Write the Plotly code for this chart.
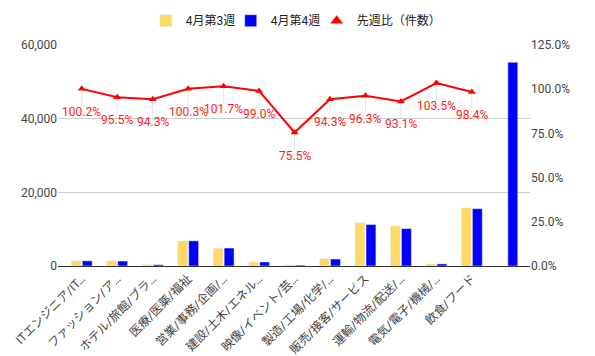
import plotly.graph_objects as go

categories = ["ITエンジニア/IT…", "ファッション/ア…", "ホテル/旅館/ブラ…", "医療/医薬/福祉",
              "営業/事務/企画/…", "建設/土木/エネル…", "映像/イベント/芸…", "製造/工場/化学/…",
              "販売/接客/サービス", "運輸/物流/配送/…", "電気/電子/機械/…", "飲食/フード", ""]
week3 = [1400, 1400, 350, 6800, 4800, 1100, 300, 2000, 11700, 10900, 550, 15800, None]
week4 = [1403, 1340, 330, 6820, 4880, 1090, 230, 1890, 11250, 10150, 570, 15550, 55300]
ratio = [100.2, 95.5, 94.3, 100.3, 101.7, 99.0, 75.5, 94.3, 96.3, 93.1, 103.5, 98.4, None]
ratio_labels = ["100.2%", "95.5%", "94.3%", "100.3%", "101.7%", "99.0%", "75.5%",
                "94.3%", "96.3%", "93.1%", "103.5%", "98.4%", ""]
left_ticks = [0, 20000, 40000, 60000]
right_ticks = [0, 25, 50, 75, 100, 125]
right_tick_text = ["0.0%", "25.0%", "50.0%", "75.0%", "100.0%", "125.0%"]

xs = list(range(len(categories)))
FONT = "Roboto, Noto Sans CJK JP, sans-serif"

fig = go.Figure()
fig.add_trace(go.Bar(x=xs, y=week3, name="4月第3週", marker_color="#ffd966", legend="legend"))
fig.add_trace(go.Bar(x=xs, y=week4, name="4月第4週", marker_color="#0000ff", legend="legend2"))
fig.add_trace(go.Scatter(
    x=xs, y=ratio, yaxis="y2", mode="lines+markers", showlegend=False,
    line=dict(color="#ff0000", width=2),
    marker=dict(symbol="triangle-up", size=7, color="#ff0000"),
    error_y=dict(type="data", symmetric=False, array=[0] * len(ratio),
                 arrayminus=[9.5] * len(ratio), color="#e6e6e6", thickness=1, width=0),
))
fig.add_trace(go.Scatter(
    x=[None], y=[None], yaxis="y2", mode="markers", name="先週比（件数）",
    legend="legend3",
    marker=dict(symbol="triangle-up", size=11, color="#ff0000"),
))

for x, y, t in zip(xs, ratio, ratio_labels):
    if y is None:
        continue
    fig.add_annotation(x=x, y=y, yref="y2", text=t, showarrow=False, yshift=-23,
                       font=dict(color="#ff2020", size=12, family=FONT))

legend_style = dict(orientation="h", xanchor="left", y=1.11, yanchor="middle",
                    bgcolor="rgba(0,0,0,0)", borderwidth=0,
                    font=dict(size=12, color="#222"), itemwidth=30)

# page body keeps its default 8px margin, so the figure is 8px smaller
fig.update_layout(
    width=587, height=348,
    margin=dict(l=50, r=65, t=37, b=90, autoexpand=False),
    paper_bgcolor="white", plot_bgcolor="white",
    font=dict(family=FONT, size=12, color="#444"),
    barmode="group", bargap=0.38, bargroupgap=0.1,
    legend=dict(x=0.186, **legend_style),
    legend2=dict(x=0.366, **legend_style),
    legend3=dict(x=0.548, **legend_style),
    xaxis=dict(tickmode="array", tickvals=xs, ticktext=categories, tickangle=-45,
               range=[-0.67, 12.64], showgrid=False, showline=True, linecolor="#333",
               linewidth=1, ticks="", automargin=False,
               tickfont=dict(size=12, color="#444")),
    yaxis=dict(range=[0, 60000], tickvals=left_ticks, tickformat=",", automargin=False,
               showgrid=True, gridcolor="#cccccc", zeroline=False,
               tickfont=dict(size=12, color="#444")),
    yaxis2=dict(range=[0, 125], tickmode="array", tickvals=right_ticks,
                ticktext=right_tick_text, overlaying="y", side="right", showgrid=False,
                zeroline=False, automargin=False, tickfont=dict(size=12, color="#444")),
)

fig.write_html("out.html")
